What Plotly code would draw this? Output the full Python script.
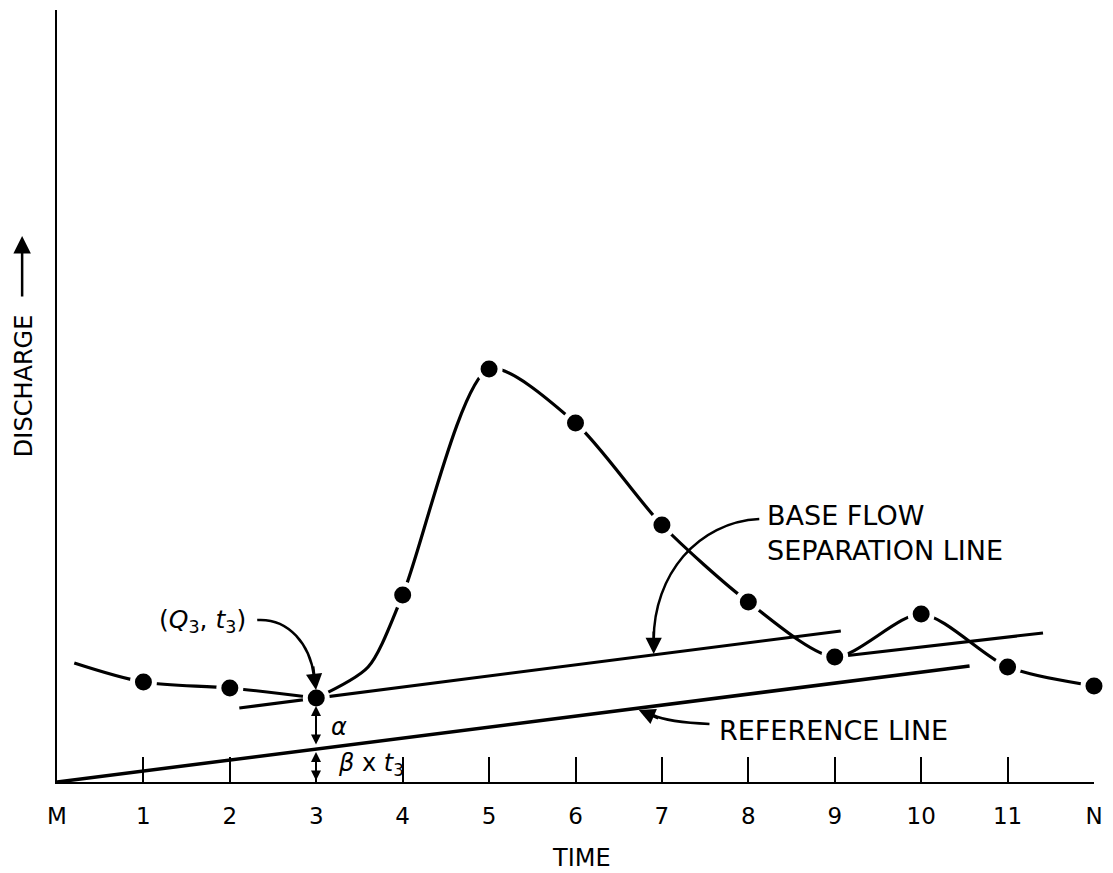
import plotly.graph_objects as go

# ---- data ----
tick_vals = [0, 1, 2, 3, 4, 5, 6, 7, 8, 9, 10, 11, 12]
tick_text = ["M", "1", "2", "3", "4", "5", "6", "7", "8", "9", "10", "11", "N"]

# observed discharge at time steps 1..N
obs_t = [1, 2, 3, 4, 5, 6, 7, 8, 9, 10, 11, 12]
obs_q = [10.0, 9.4, 8.4, 18.7, 41.3, 35.9, 25.7, 18.0, 12.5, 16.8, 11.5, 9.6]

# hydrograph curve, drawn in two pieces meeting at point 3
# (recession before the event, then the storm hydrograph)
pre_t = [0.2, 1, 2, 3]
pre_q = [11.9, 10.0, 9.4, 8.4]
storm_t = [3, 3.6, 4, 5, 6, 7, 8, 9, 10, 11, 12]
storm_q = [8.4, 11.5, 18.7, 41.3, 35.9, 25.7, 18.0, 12.5, 16.8, 11.5, 9.6]

# straight lines
ref_t = [0.0, 10.56]
ref_q = [0.0, 11.6]
sep1_t = [2.11, 9.07]
sep1_q = [7.4, 15.1]
sep2_t = [9.0, 11.41]
sep2_q = [12.5, 14.9]

# ---- geometry helpers for decorations (pixel -> data / paper) ----
L, R, T, B = 57, 15, 10, 91
W, H = 1113, 873
XMAX, YMAX = 12, 77.2
PX_PER_T = (W - L - R) / XMAX
PX_PER_Q = (H - T - B) / YMAX


def X(px):
    return (px - L) / PX_PER_T


def Y(py):
    return (H - B - py) / PX_PER_Q


def PXp(px):
    return (px - L) / (W - L - R)


def PYp(py):
    return (H - B - py) / (H - T - B)


FONT = "DejaVu Sans"
BLK = "black"

fig = go.Figure()

line_style = dict(color=BLK, width=3)
fig.add_trace(go.Scatter(x=ref_t, y=ref_q, mode="lines", line=dict(color=BLK, width=3.5),
                         cliponaxis=False, hoverinfo="skip"))
fig.add_trace(go.Scatter(x=sep1_t, y=sep1_q, mode="lines", line=line_style,
                         cliponaxis=False, hoverinfo="skip"))
fig.add_trace(go.Scatter(x=sep2_t, y=sep2_q, mode="lines", line=line_style,
                         cliponaxis=False, hoverinfo="skip"))
fig.add_trace(go.Scatter(x=pre_t, y=pre_q, mode="lines",
                         line=dict(color=BLK, width=3.2, shape="spline", smoothing=0.9),
                         cliponaxis=False, hoverinfo="skip"))
fig.add_trace(go.Scatter(x=storm_t, y=storm_q, mode="lines",
                         line=dict(color=BLK, width=3.2, shape="spline", smoothing=0.75),
                         cliponaxis=False, hoverinfo="skip"))
# white halo around the dots (gaps in the lines)
fig.add_trace(go.Scatter(x=obs_t, y=obs_q, mode="markers",
                         marker=dict(color="white", size=27, line=dict(width=0)),
                         cliponaxis=False, hoverinfo="skip"))
fig.add_trace(go.Scatter(x=obs_t, y=obs_q, mode="markers",
                         marker=dict(color=BLK, size=17, line=dict(width=0)),
                         cliponaxis=False))


def cubic(p0, c1, c2, p1):
    return "M {},{} C {},{} {},{} {},{}".format(
        X(p0[0]), Y(p0[1]), X(c1[0]), Y(c1[1]), X(c2[0]), Y(c2[1]), X(p1[0]), Y(p1[1]))


shapes = [
    dict(type="path", xref="x", yref="y",
         path=cubic((258, 620), (290, 618), (311, 645), (315, 676)),
         line=dict(color=BLK, width=2.5)),
    dict(type="path", xref="x", yref="y",
         path=cubic((762, 519), (700, 522), (656, 575), (656, 640)),
         line=dict(color=BLK, width=2.5)),
    dict(type="path", xref="x", yref="y",
         path=cubic((712, 724), (690, 723), (668, 721), (655, 715)),
         line=dict(color=BLK, width=2.5)),
]

ann = []


def arrow(tail, tip, size=1.3, width=2.5, both=False, head=2):
    d = dict(x=X(tip[0]), y=Y(tip[1]), ax=X(tail[0]), ay=Y(tail[1]),
             xref="x", yref="y", axref="x", ayref="y", text="",
             showarrow=True, arrowhead=head, arrowsize=size, arrowwidth=width,
             arrowcolor=BLK)
    if both:
        d.update(arrowside="end+start", startarrowhead=head, startarrowsize=size)
    return d


ann.append(arrow((314, 665), (317, 690)))
ann.append(arrow((656, 630), (656, 654)))
ann.append(arrow((662, 719), (641, 710)))
# DISCHARGE arrow (outside the plotting area -> paper reference)
ann.append(dict(x=PXp(22), y=PYp(236), xref="paper", yref="paper", ax=0, ay=62,
                text="", showarrow=True, arrowhead=2, arrowsize=1.4, arrowwidth=2.5,
                arrowcolor=BLK))
# alpha and beta*t3 double arrows
ann.append(arrow((317, 746), (317, 706), size=1.0, width=2, both=True))
ann.append(arrow((317, 782), (317, 752), size=1.0, width=2, both=True))


def label(px, py, text, size, xanchor="left", angle=0, align="left", paper=False):
    if paper:
        x, y = PXp(px), PYp(py)
    else:
        x, y = X(px), Y(py)
    d = dict(x=x, y=y, text=text, showarrow=False,
             xanchor=xanchor, yanchor="middle", textangle=angle, align=align,
             font=dict(family=FONT, size=size, color=BLK))
    if paper:
        d.update(xref="paper", yref="paper")
    else:
        d.update(xref="x", yref="y")
    return d


ann.append(label(157, 621, "(<i>Q</i><sub>3</sub>, <i>t</i><sub>3</sub>)", 25))
ann.append(label(330, 727, "<i>α</i>", 24))
ann.append(label(337, 764, "<i>β</i> x <i>t</i><sub>3</sub>", 24))
ann.append(label(768, 533, "BASE FLOW<br>SEPARATION LINE", 27))
ann.append(label(720, 730, "REFERENCE LINE", 27))
ann.append(label(584, 858, "TIME", 24, xanchor="center", paper=True))
ann.append(label(24, 386, "DISCHARGE", 24, xanchor="center", angle=-90, paper=True))

fig.update_layout(
    width=W, height=H,
    margin=dict(l=L, r=R, t=T, b=B),
    paper_bgcolor="white", plot_bgcolor="white",
    showlegend=False,
    shapes=shapes,
    annotations=ann,
    xaxis=dict(range=[0, XMAX], showgrid=False, zeroline=False,
               showline=True, linecolor=BLK, linewidth=2,
               ticks="inside", ticklen=25, tickwidth=1.5, tickcolor=BLK,
               tickvals=tick_vals, ticktext=tick_text, ticklabelstandoff=12,
               tickfont=dict(family=FONT, size=23, color=BLK), fixedrange=True),
    yaxis=dict(range=[0, YMAX], showgrid=False, zeroline=False,
               showline=True, linecolor=BLK, linewidth=2,
               showticklabels=False, ticks="", fixedrange=True),
)

fig.write_html("out.html", config={"displayModeBar": False},
               post_script="document.body.style.margin='0';document.body.style.overflow='hidden';")
